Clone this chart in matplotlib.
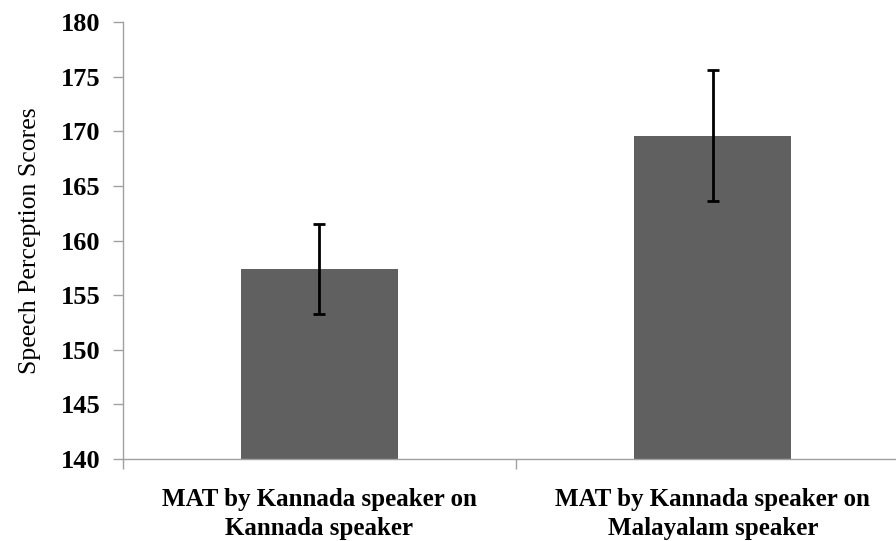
import matplotlib
matplotlib.use("Agg")
import matplotlib.pyplot as plt
import numpy as np

categories = ["MAT by Kannada speaker on\nKannada speaker",
              "MAT by Kannada speaker on\nMalayalam speaker"]
means = [157.4, 169.6]
errors = [4.15, 6.0]
yticks = [140, 145, 150, 155, 160, 165, 170, 175, 180]

plt.rcParams['font.family'] = ['Liberation Serif', 'DejaVu Serif']

fig = plt.figure(figsize=(8.96, 5.41), dpi=100)
W, H = 896, 541
ax = fig.add_axes([122.5 / W, (H - 459) / H, 787 / W, 437 / H])

x = np.arange(len(categories))
ax.bar(x, means, width=0.4, color="#606060", zorder=2)
ax.errorbar(x, means, yerr=errors, fmt="none", ecolor="black",
            elinewidth=2, capsize=4.6, capthick=2, zorder=3)

ax.set_xlim(-0.5, 1.5)
ax.set_ylim(140, 180)
ax.set_yticks(yticks)
ax.set_yticklabels([str(v) for v in yticks], fontsize=19, fontweight="bold")
ax.tick_params(axis="y", direction="out", length=7, width=1, color="#a0a0a0", pad=9)

# category boundaries get the tick marks, labels sit under the bars
ax.set_xticks([-0.5, 0.5, 1.5])
ax.set_xticklabels([])
ax.tick_params(axis="x", direction="out", length=7, width=1, color="#a0a0a0")
for xi, lab in zip(x, categories):
    ax.text(xi, -0.066, lab, transform=ax.get_xaxis_transform(),
            ha="center", va="top", fontsize=18, fontweight="bold",
            linespacing=1.35)

ax.set_ylabel("Speech Perception Scores", fontsize=18.5, labelpad=14)

for side in ["top", "right"]:
    ax.spines[side].set_visible(False)
for side in ["left", "bottom"]:
    ax.spines[side].set_color("#a0a0a0")
    ax.spines[side].set_linewidth(1)

fig.savefig("out.png", dpi=100)
